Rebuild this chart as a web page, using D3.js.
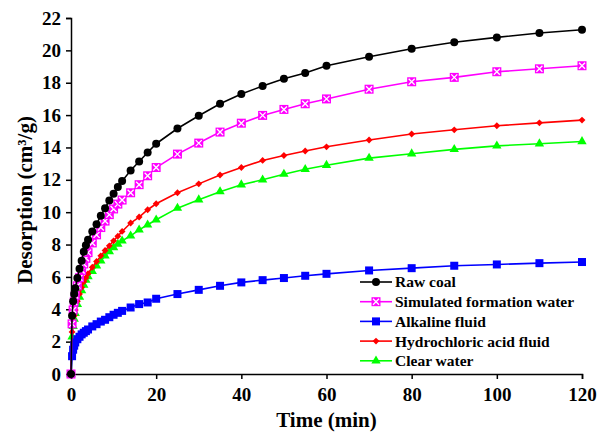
<!DOCTYPE html>
<html>
<head>
<meta charset="utf-8">
<script src="https://cdn.jsdelivr.net/npm/d3@7"></script>
<style>
  body { margin: 0; background: #fff; }
  text { font-family: "Liberation Serif", "Times New Roman", serif; font-weight: bold; }
</style>
</head>
<body>
<svg class="chart"></svg>
<script>
// time points (min)
const times = [0, 0.25, 0.5, 0.75, 1, 1.5, 2, 2.5, 3, 3.5, 4, 5, 6, 7, 8, 9, 10, 11, 12, 14, 16, 18, 20,
  25, 30, 35, 40, 45, 50, 55, 60, 70, 80, 90, 100, 110, 120]

const rawCoal = [0, 3.6, 4.5, 4.95, 5.3, 5.93, 6.5, 7.0, 7.55, 7.95, 8.3, 8.81, 9.26, 9.78, 10.25, 10.72, 11.14, 11.55, 11.92, 12.58, 13.13, 13.69, 14.23,
  15.17, 15.96, 16.7, 17.3, 17.8, 18.25, 18.6, 19.05, 19.6, 20.1, 20.5, 20.8, 21.07, 21.27]

const simulatedWater = [0, 3.1, 3.95, 4.45, 4.85, 5.45, 5.95, 6.4, 6.8, 7.15, 7.5, 8.1, 8.6, 9.05, 9.45, 9.85, 10.2, 10.5, 10.75, 11.2, 11.7, 12.25, 12.76,
  13.59, 14.27, 14.95, 15.5, 15.98, 16.35, 16.7, 17.0, 17.6, 18.06, 18.33, 18.68, 18.86, 19.05]

const alkaline = [0, 1.1, 1.5, 1.75, 1.95, 2.15, 2.3, 2.45, 2.55, 2.65, 2.75, 2.94, 3.08, 3.24, 3.35, 3.51, 3.66, 3.78, 3.9, 4.11, 4.32, 4.42, 4.65,
  4.94, 5.2, 5.45, 5.66, 5.8, 5.93, 6.07, 6.19, 6.4, 6.54, 6.69, 6.77, 6.85, 6.92]

const hydrochloric = [0, 2.6, 3.2, 3.6, 3.95, 4.5, 4.95, 5.35, 5.7, 5.95, 6.2, 6.6, 6.95, 7.3, 7.63, 7.92, 8.23, 8.52, 8.81, 9.33, 9.7, 10.15, 10.52,
  11.2, 11.75, 12.3, 12.76, 13.2, 13.5, 13.78, 14.04, 14.46, 14.83, 15.09, 15.34, 15.52, 15.69]

const clearWater = [0, 2.3, 2.95, 3.4, 3.75, 4.3, 4.75, 5.15, 5.5, 5.8, 6.03, 6.34, 6.69, 7.0, 7.3, 7.57, 7.82, 8.03, 8.23, 8.54, 8.91, 9.22, 9.53,
  10.25, 10.77, 11.27, 11.7, 12.0, 12.35, 12.65, 12.9, 13.34, 13.61, 13.88, 14.1, 14.23, 14.37]

const seriesNames = ['Raw coal', 'Simulated formation water', 'Alkaline fluid', 'Hydrochloric acid fluid', 'Clear water']
const xTicks = [0, 20, 40, 60, 80, 100, 120]
const yTicks = [0, 2, 4, 6, 8, 10, 12, 14, 16, 18, 20, 22]

const series = [
  { name: seriesNames[0], values: rawCoal, color: '#000000', marker: 'circle' },
  { name: seriesNames[1], values: simulatedWater, color: '#ff00ff', marker: 'xsquare' },
  { name: seriesNames[2], values: alkaline, color: '#0000ff', marker: 'square' },
  { name: seriesNames[3], values: hydrochloric, color: '#ff0000', marker: 'diamond' },
  { name: seriesNames[4], values: clearWater, color: '#00ff00', marker: 'triangle' },
]

const margin = { top: 18, right: 16, bottom: 60, left: 71 }
const width = 598 - margin.left - margin.right,
      height = 434 - margin.top - margin.bottom

const x = d3.scaleLinear().domain([0, 120]).range([0, width])
const y = d3.scaleLinear().domain([0, 22]).range([height, 0])

const svg = d3.select('.chart')
  .attr('width', 598)
  .attr('height', 434)

const chart = svg.append('g')
  .attr('transform', `translate(${margin.left}, ${margin.top})`)

const xAxis = d3.axisBottom(x).tickValues(xTicks).tickSize(5).tickPadding(5)
const yAxis = d3.axisLeft(y).tickValues(yTicks).tickSize(5).tickPadding(5)

const gx = chart.append('g')
  .attr('transform', `translate(0, ${height})`)
  .call(xAxis)
const gy = chart.append('g').call(yAxis)

for (const g of [gx, gy]) {
  g.selectAll('path, line').attr('stroke', '#000').attr('stroke-width', 1.5)
  g.selectAll('text').attr('fill', '#000').style('font-size', '19px')
}
gx.selectAll('text').attr('dy', '0.9em')

chart.append('text')
  .attr('x', width / 2)
  .attr('y', height + 53)
  .attr('text-anchor', 'middle')
  .style('font-size', '21px')
  .text('Time (min)')

chart.append('text')
  .attr('transform', `translate(-39, ${height / 2 + 4}) rotate(-90)`)
  .attr('text-anchor', 'middle')
  .style('font-size', '21px')
  .text('Desorption (cm³/g)')

function drawMarker(g, type, color) {
  if (type === 'circle') {
    g.append('circle').attr('r', 4).attr('fill', color)
  } else if (type === 'square') {
    g.append('rect').attr('x', -4).attr('y', -4).attr('width', 8).attr('height', 8).attr('fill', color)
  } else if (type === 'xsquare') {
    g.append('rect').attr('x', -4.5).attr('y', -4.5).attr('width', 9).attr('height', 9).attr('fill', color)
    g.append('path').attr('d', 'M-3,-3L3,3M3,-3L-3,3').attr('stroke', '#fff').attr('stroke-width', 1.3)
  } else if (type === 'diamond') {
    g.append('path').attr('d', d3.symbol(d3.symbolDiamond2, 30)()).attr('fill', color)
  } else if (type === 'triangle') {
    g.append('path').attr('d', d3.symbol(d3.symbolTriangle, 38)()).attr('fill', color)
  }
}

const line = d3.line()
  .x(d => x(d[0]))
  .y(d => y(d[1]))

// draw back to front so raw coal ends on top
series.slice().reverse().forEach(s => {
  const pts = times.map((t, i) => [t, s.values[i]])
  chart.append('path')
    .datum(pts)
    .attr('fill', 'none')
    .attr('stroke', s.color)
    .attr('stroke-width', 1.6)
    .attr('d', line)

  chart.append('g').selectAll('g')
    .data(pts)
    .enter()
    .append('g')
    .attr('transform', d => `translate(${x(d[0])}, ${y(d[1])})`)
    .each(function () { drawMarker(d3.select(this), s.marker, s.color) })
})

// legend
const legend = svg.append('g')
  .attr('transform', 'translate(360, 282)')

series.forEach((s, i) => {
  const row = legend.append('g').attr('transform', `translate(0, ${i * 19.7})`)
  row.append('line')
    .attr('x1', 0).attr('x2', 32)
    .attr('stroke', s.color).attr('stroke-width', 1.6)
  drawMarker(row.append('g').attr('transform', 'translate(16, 0)'), s.marker, s.color)
  row.append('text')
    .attr('x', 35)
    .attr('dy', '0.35em')
    .style('font-size', '15.5px')
    .text(s.name)
})
</script>
</body>
</html>
